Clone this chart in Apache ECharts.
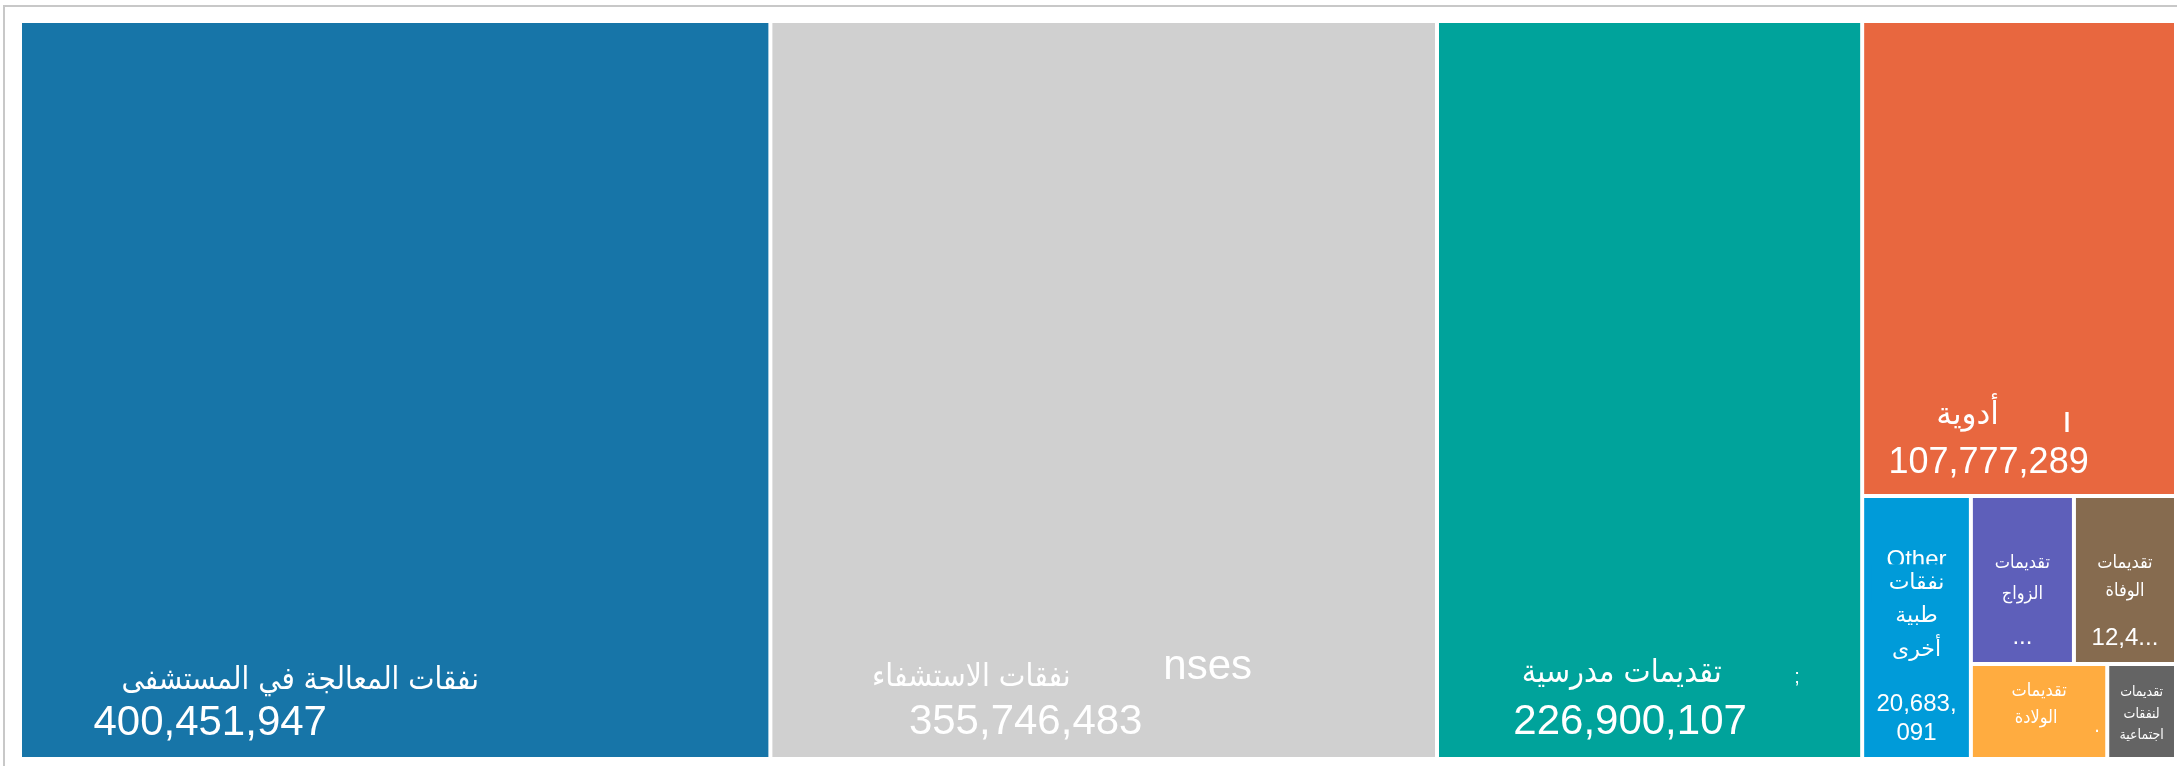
<!DOCTYPE html>
<html>
<head>
<meta charset="utf-8">
<script src="https://cdn.jsdelivr.net/npm/echarts@6/dist/echarts.min.js"></script>
<style>
  html, body { margin: 0; padding: 0; background: #ffffff; }
  #chart { width: 2177px; height: 766px; }
</style>
</head>
<body>
<div id="chart"></div>
<script>
// ---- data ----
const categories = [
  'نفقات المعالجة في المستشفى',
  'نفقات الاستشفاء',
  'تقديمات مدرسية',
  'أدوية',
  'نفقات طبية أخرى',
  'تقديمات الزواج',
  'تقديمات الوفاة',
  'تقديمات الولادة',
  'تقديمات لنفقات اجتماعية'
];
const values = [400451947, 355746483, 226900107, 107777289, 20683091, 12530000, 12410000, 9360000, 4720000];
// fragments of English labels left visible behind the Arabic ones
const englishRemnants = ['', 'nses', ';', 'ı', 'Other', '', '', '.', ''];
// how many characters of the value are visible before "..." (null = full, -1 = hidden)
const valueCharsShown = [null, null, null, null, null, 0, 4, -1, -1];

// ---- styles ----
const colors = ['#1775a8', '#d0d0d0', '#00a39b', '#e8673f', '#009bd9', '#5e5fba', '#866b4f', '#ffac40', '#646464'];
const AR = "'DejaVu Sans Condensed', 'DejaVu Sans'";
const AR_WIDE = "'DejaVu Sans'";
const EN = "'Liberation Sans', Arial, sans-serif";

function fmt(v) { return v.toLocaleString('en-US'); }
function valueText(i) {
  const s = fmt(values[i]);
  const n = valueCharsShown[i];
  if (n === null) return s;
  if (n < 0) return null;
  return s.slice(0, n) + '...';
}

function tok(name, text) { return '{' + name + '|' + text + '}'; }

function labelFor(i) {
  const name = categories[i];
  const val = valueText(i);
  const rem = englishRemnants[i];
  const words = name.split(' ');
  const base = { color: '#fff' };
  let rich = {}, lines = [], padTop = 0;
  const S = (o) => Object.assign({}, base, o);
  switch (i) {
    case 0:
      padTop = 625;
      rich.ar = S({ fontFamily: AR, fontSize: 31, lineHeight: 50, padding: [16, 190, 0, 0] });
      rich.v = S({ fontFamily: EN, fontSize: 42, lineHeight: 50, padding: [0, 370, 0, 0] });
      lines = [tok('ar', name), tok('v', val)];
      break;
    case 1:
      padTop = 617;
      rich.ar = S({ fontFamily: AR, fontSize: 31.5, lineHeight: 55, width: 384, padding: [20, 0, 0, 0] });
      rich.en = S({ fontFamily: EN, fontSize: 42, lineHeight: 55, padding: [0, 176, 0, 0] });
      rich.v = S({ fontFamily: EN, fontSize: 42, lineHeight: 55, padding: [0, 156, 0, 0] });
      lines = [tok('ar', name) + tok('en', rem), tok('v', val)];
      break;
    case 2:
      padTop = 615;
      rich.ar = S({ fontFamily: AR, fontSize: 32, lineHeight: 56, width: 345, padding: [16, 0, 0, 0] });
      rich.en = S({ fontFamily: EN, fontSize: 20, lineHeight: 56, padding: [22, 50, 0, 0] });
      rich.v = S({ fontFamily: EN, fontSize: 42, lineHeight: 57, padding: [0, 39, 0, 0] });
      lines = [tok('ar', name) + tok('en', rem), tok('v', val)];
      break;
    case 3:
      padTop = 361;
      rich.ar = S({ fontFamily: AR_WIDE, fontSize: 31, lineHeight: 52, width: 189, padding: [12, 0, 0, 0] });
      rich.en = S({ fontFamily: EN, fontSize: 36, lineHeight: 52, padding: [25, 93, 0, 0] });
      rich.v = S({ fontFamily: EN, fontSize: 36, lineHeight: 55, padding: [0, 61, 0, 0] });
      lines = [tok('ar', name) + tok('en', rem), tok('v', val)];
      break;
    case 4: {
      padTop = 52.5;
      const s = fmt(values[i]);
      rich.en = S({ fontFamily: EN, fontSize: 24, lineHeight: 16, padding: [4, 0, 0, 0] });
      rich.arbg = S({ fontFamily: AR_WIDE, fontSize: 22, lineHeight: 33.5, width: 90, padding: [8, 0, 8, 0], backgroundColor: colors[i] });
      rich.ar = S({ fontFamily: AR_WIDE, fontSize: 22, lineHeight: 33.5 });
      rich.sp = S({ fontSize: 10, lineHeight: 23.5 });
      rich.v = S({ fontFamily: EN, fontSize: 24, lineHeight: 28.5 });
      lines = [tok('en', rem), tok('arbg', words[0]), tok('ar', words[1]), tok('ar', words[2]), tok('sp', ' '),
               tok('v', s.slice(0, 7)), tok('v', s.slice(7))];
      break;
    }
    case 5:
      padTop = 50.3;
      rich.ar = S({ fontFamily: AR, fontSize: 18, lineHeight: 31 });
      rich.sp = S({ fontSize: 10, lineHeight: 17.2 });
      rich.v = S({ fontFamily: EN, fontSize: 24, lineHeight: 20 });
      lines = words.map(w => tok('ar', w)).concat([tok('sp', ' '), tok('v', val)]);
      break;
    case 6:
      padTop = 51.8;
      rich.ar = S({ fontFamily: AR, fontSize: 18, lineHeight: 28 });
      rich.sp = S({ fontSize: 10, lineHeight: 22.5 });
      rich.v = S({ fontFamily: EN, fontSize: 24, lineHeight: 20 });
      lines = words.map(w => tok('ar', w)).concat([tok('sp', ' '), tok('v', val)]);
      break;
    case 7:
      padTop = 12.2;
      rich.ar = S({ fontFamily: AR, fontSize: 18, lineHeight: 27 });
      rich.arw = S({ fontFamily: AR, fontSize: 18, lineHeight: 27, width: 116 });
      rich.en = S({ fontFamily: EN, fontSize: 20, lineHeight: 27, width: 6, padding: [16, 0, 0, 0] });
      lines = [tok('ar', words[0]), tok('arw', words[1]) + tok('en', rem)];
      break;
    case 8:
      padTop = 16;
      rich.ar = S({ fontFamily: AR, fontSize: 14, lineHeight: 21.5 });
      lines = words.map(w => tok('ar', w));
      break;
  }
  const text = lines.join('\n');
  return {
    show: true,
    position: 'inside',
    align: 'center',
    overflow: 'none',
    padding: [padTop, 0, 0, 0],
    formatter: () => text,
    rich: rich
  };
}

const seriesData = categories.map((name, i) => ({
  name: name,
  value: values[i],
  itemStyle: { color: colors[i] },
  label: labelFor(i)
}));

const chart = echarts.init(document.getElementById('chart'), null, { renderer: 'canvas' });
chart.setOption({
  backgroundColor: '#ffffff',
  animation: false,
  graphic: [{
    type: 'rect',
    silent: true,
    shape: { x: 4, y: 6, width: 3000, height: 3000 },
    style: { fill: 'none', stroke: '#c8c8c8', lineWidth: 2 }
  }],
  tooltip: { show: false },
  series: [{
    type: 'treemap',
    left: 22, top: 23, width: 2152, height: 734,
    roam: false,
    nodeClick: false,
    breadcrumb: { show: false },
    squareRatio: 0.84,
    sort: 'desc',
    visibleMin: 0,
    itemStyle: { borderWidth: 0, gapWidth: 4, borderColor: '#fff' },
    levels: [{ itemStyle: { borderWidth: 0, gapWidth: 4 } }],
    label: { show: true, color: '#fff' },
    data: seriesData
  }]
});
</script>
</body>
</html>
